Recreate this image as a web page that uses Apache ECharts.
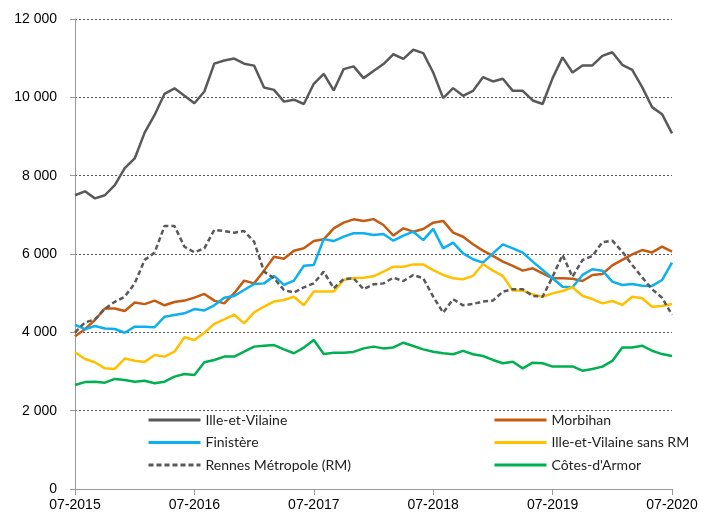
<!DOCTYPE html>
<html lang="fr">
  <head>
    <meta charset="utf-8" />
    <title>Demandeurs de logement social</title>
    <script src="https://cdn.jsdelivr.net/npm/echarts@6/dist/echarts.min.js"></script>
    <style>
      html, body { margin: 0; padding: 0; background: #fff; }
      #main { width: 705px; height: 516px; }
    </style>
  </head>
  <body>
    <div id="main"></div>
    <script>
      // mois de 07-2015 a 07-2020
      var months = [];
      for (var y = 2015; y <= 2020; y++) {
        for (var m = 1; m <= 12; m++) {
          if ((y === 2015 && m < 7) || (y === 2020 && m > 7)) continue;
          months.push((m < 10 ? "0" + m : "" + m) + "-" + y);
        }
      }

      var illeEtVilaine = [7500, 7600, 7420, 7500, 7760, 8190, 8440, 9100, 9550, 10090, 10230, 10040, 9850, 10150, 10860, 10940, 10990, 10860, 10810, 10250, 10190, 9890, 9940, 9830, 10345, 10600, 10175, 10720, 10790, 10490, 10670, 10850, 11100, 10980, 11215, 11130, 10635, 9980, 10235, 10040, 10165, 10515, 10405, 10475, 10165, 10165, 9920, 9830, 10490, 11020, 10635, 10815, 10815, 11060, 11150, 10830, 10700, 10260, 9750, 9570, 9080];
      var morbihan = [3900, 4080, 4315, 4610, 4610, 4545, 4760, 4720, 4810, 4690, 4775, 4810, 4885, 4980, 4810, 4740, 5000, 5320, 5250, 5575, 5930, 5880, 6085, 6145, 6330, 6375, 6655, 6800, 6885, 6845, 6890, 6740, 6470, 6655, 6570, 6640, 6800, 6845, 6545, 6440, 6250, 6085, 5950, 5805, 5695, 5575, 5635, 5505, 5380, 5380, 5370, 5310, 5465, 5490, 5710, 5850, 5990, 6100, 6040, 6190, 6060];
      var finistere = [4190, 4080, 4160, 4100, 4085, 3990, 4145, 4145, 4130, 4400, 4445, 4485, 4595, 4560, 4690, 4885, 4930, 5080, 5235, 5250, 5440, 5210, 5320, 5700, 5720, 6380, 6330, 6445, 6530, 6530, 6485, 6510, 6340, 6470, 6570, 6355, 6640, 6145, 6290, 6015, 5865, 5780, 6015, 6245, 6145, 6035, 5805, 5590, 5380, 5165, 5150, 5465, 5610, 5575, 5295, 5210, 5235, 5190, 5185, 5335, 5780];
      var sansRM = [3490, 3320, 3235, 3080, 3065, 3330, 3275, 3245, 3420, 3380, 3505, 3875, 3805, 3990, 4215, 4330, 4450, 4230, 4510, 4655, 4785, 4825, 4910, 4690, 5040, 5040, 5040, 5335, 5385, 5395, 5430, 5550, 5675, 5675, 5735, 5735, 5590, 5465, 5380, 5355, 5440, 5745, 5575, 5440, 5065, 5065, 4970, 4910, 4995, 5055, 5150, 4935, 4850, 4740, 4800, 4700, 4910, 4870, 4655, 4670, 4725];
      var rennesMetropole = [4000, 4250, 4330, 4600, 4780, 4910, 5250, 5850, 6035, 6715, 6715, 6185, 6045, 6145, 6615, 6585, 6545, 6585, 6315, 5550, 5380, 5080, 5015, 5150, 5250, 5550, 5125, 5360, 5380, 5100, 5225, 5250, 5395, 5310, 5465, 5380, 4910, 4500, 4845, 4690, 4725, 4785, 4810, 5040, 5100, 5100, 4930, 4910, 5420, 5975, 5420, 5845, 5950, 6300, 6340, 6060, 5720, 5405, 5100, 4885, 4445];
      var cotesArmor = [2655, 2730, 2740, 2715, 2810, 2785, 2740, 2765, 2700, 2740, 2870, 2935, 2910, 3235, 3295, 3380, 3380, 3505, 3635, 3660, 3675, 3565, 3465, 3610, 3805, 3445, 3480, 3480, 3500, 3590, 3635, 3590, 3615, 3735, 3650, 3565, 3505, 3465, 3440, 3525, 3440, 3395, 3295, 3210, 3250, 3080, 3225, 3210, 3125, 3125, 3130, 3020, 3065, 3125, 3270, 3610, 3615, 3660, 3530, 3445, 3395];

      var labelFont = "Liberation Sans, Arial, sans-serif";
      var legendFont = "Lato, Noto Sans, sans-serif";

      function line(name, data, color, dashed) {
        return {
          name: name,
          type: "line",
          data: data,
          symbol: "none",
          lineStyle: { color: color, width: 2.5, type: dashed ? [5, 3] : "solid" },
          itemStyle: { color: color }
        };
      }

      // legende : trait seul, sans rond
      var legendBase = {
        orient: "vertical",
        top: 408,
        itemWidth: 52,
        itemHeight: 14,
        itemGap: 8.5,
        itemStyle: { opacity: 0 },
        lineStyle: { width: 3 },
        textStyle: { fontFamily: legendFont, fontSize: 14, color: "#222" }
      };

      var chart = echarts.init(document.getElementById("main"), null, { renderer: "canvas" });
      chart.setOption({
        animation: false,
        grid: { left: 75, right: 33, top: 19, bottom: 27 },
        legend: [
          Object.assign({}, legendBase, {
            left: 142,
            data: ["Ille-et-Vilaine", "Finistère", "Rennes Métropole (RM)"]
          }),
          Object.assign({}, legendBase, {
            left: 488,
            data: ["Morbihan", "Ille-et-Vilaine sans RM", "Côtes-d'Armor"]
          })
        ],
        xAxis: {
          type: "category",
          data: months,
          boundaryGap: false,
          axisLine: { lineStyle: { color: "#999", width: 1 } },
          axisTick: { interval: 11, length: 6, lineStyle: { color: "#999" } },
          axisLabel: { interval: 11, margin: 9, color: "#000", fontFamily: labelFont, fontSize: 14 },
          splitLine: { show: false }
        },
        yAxis: {
          type: "value",
          min: 0,
          max: 12000,
          interval: 2000,
          axisLine: { show: true, lineStyle: { color: "#999", width: 1 } },
          axisTick: { show: true, length: 5, lineStyle: { color: "#999" } },
          axisLabel: {
            margin: 18,
            color: "#000",
            fontFamily: labelFont,
            fontSize: 14,
            formatter: function (v) {
              return String(v).replace(/\B(?=(\d{3})+(?!\d))/g, " ");
            }
          },
          splitLine: { show: true, lineStyle: { color: "#555", width: 1, type: [2, 2] } }
        },
        series: [
          line("Ille-et-Vilaine", illeEtVilaine, "#595959", false),
          line("Morbihan", morbihan, "#C55A11", false),
          line("Finistère", finistere, "#0CB0EE", false),
          line("Ille-et-Vilaine sans RM", sansRM, "#FFC000", false),
          line("Rennes Métropole (RM)", rennesMetropole, "#595959", true),
          line("Côtes-d'Armor", cotesArmor, "#00B050", false)
        ]
      });
    </script>
  </body>
</html>
